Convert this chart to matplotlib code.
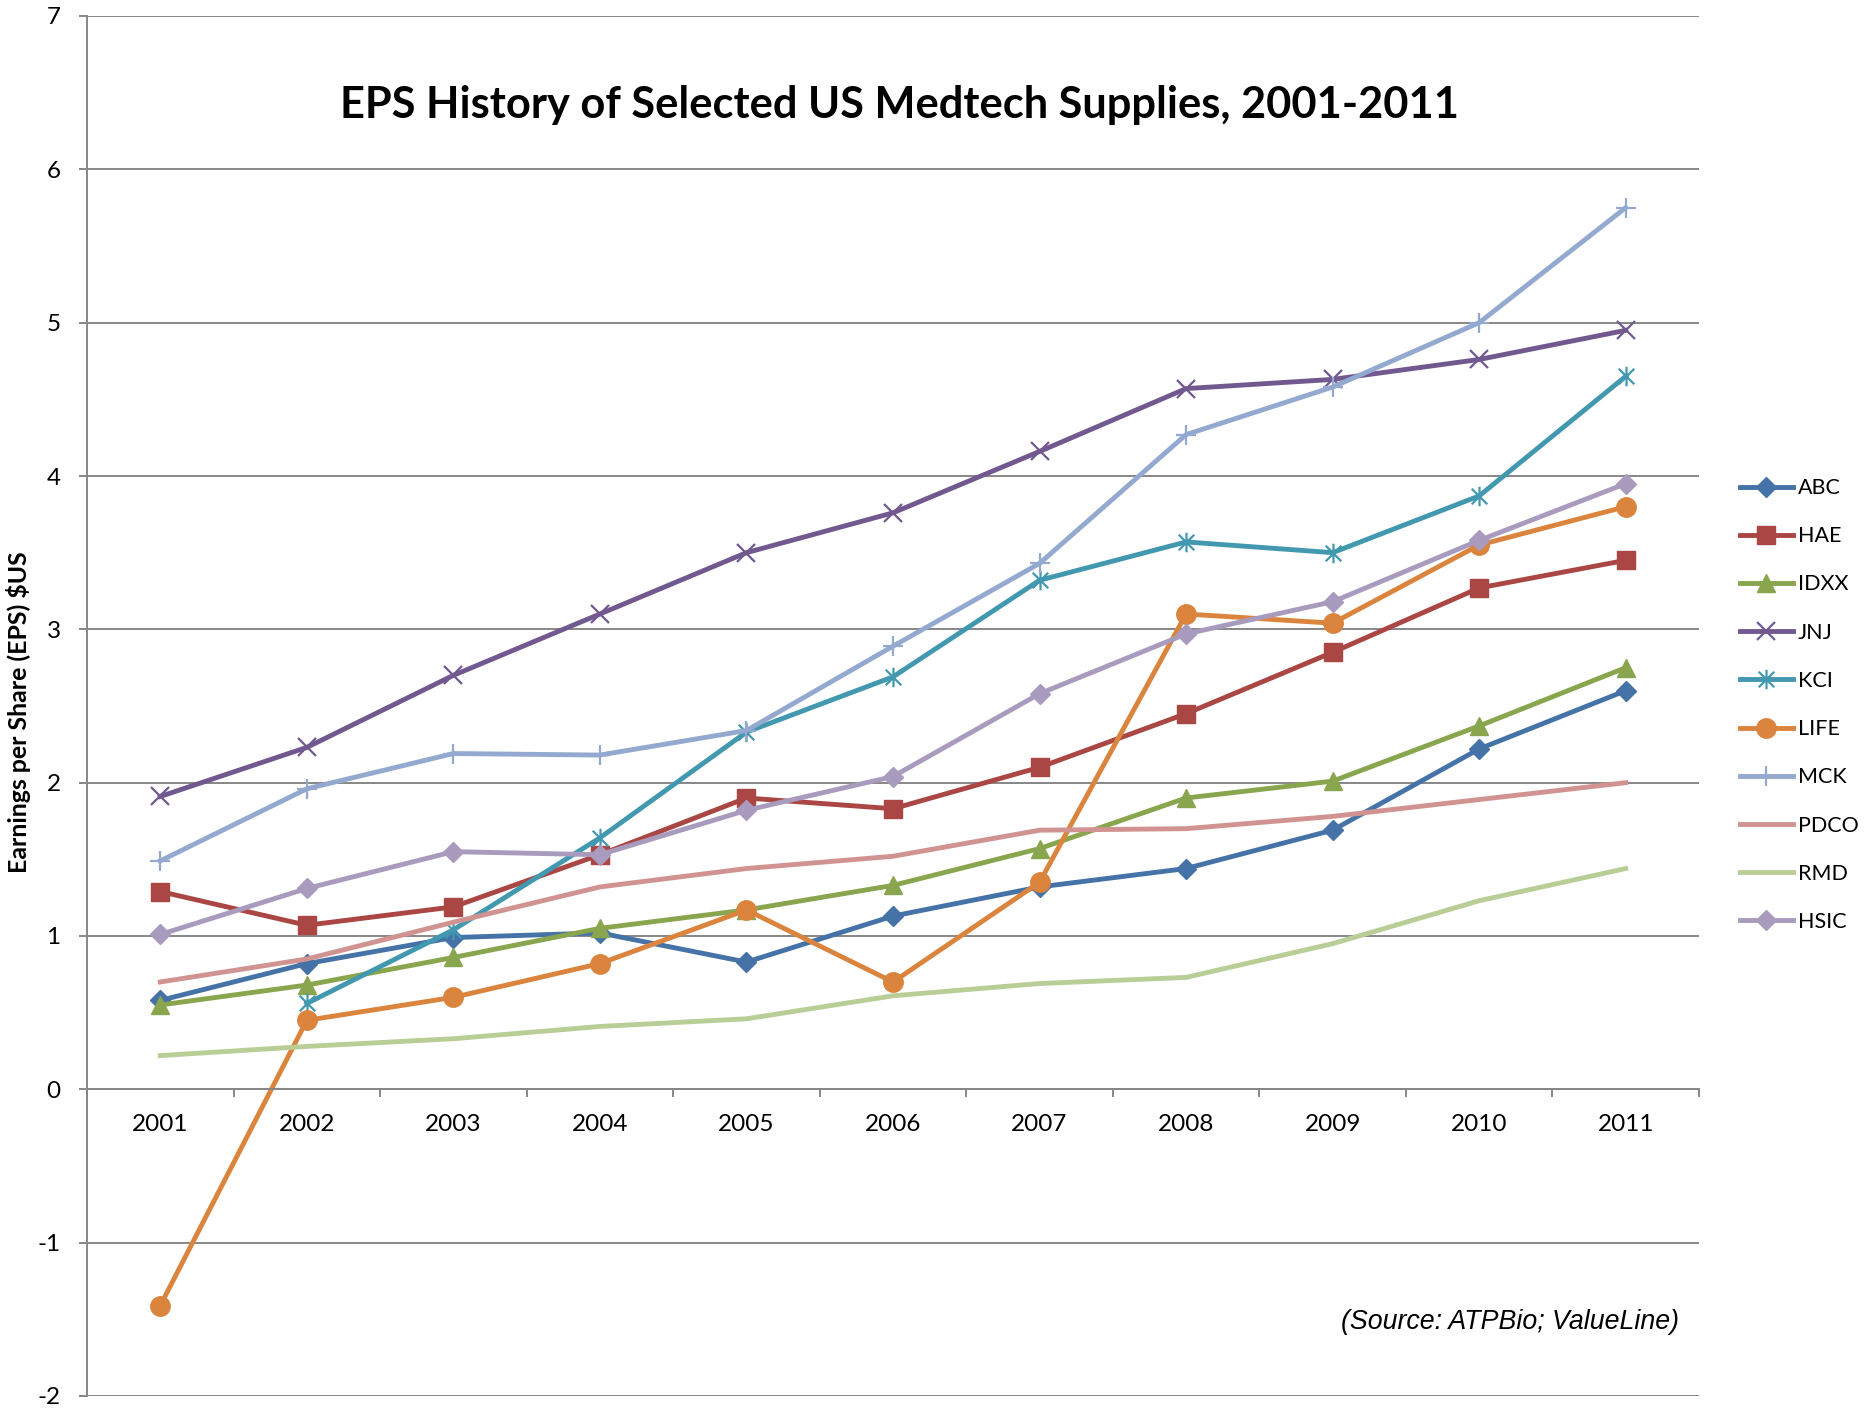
import matplotlib
matplotlib.use("Agg")
import matplotlib.pyplot as plt
import numpy as np
from matplotlib.path import Path

# EPS per year
years = ["2001", "2002", "2003", "2004", "2005", "2006", "2007", "2008", "2009", "2010", "2011"]

abc = [0.58, 0.82, 0.99, 1.02, 0.83, 1.13, 1.32, 1.44, 1.69, 2.22, 2.60]
hae = [1.29, 1.07, 1.19, 1.53, 1.90, 1.83, 2.10, 2.45, 2.85, 3.27, 3.45]
idxx = [0.55, 0.68, 0.86, 1.05, 1.17, 1.33, 1.57, 1.90, 2.01, 2.37, 2.75]
jnj = [1.91, 2.23, 2.70, 3.10, 3.50, 3.76, 4.16, 4.57, 4.63, 4.76, 4.95]
kci = [np.nan, 0.56, 1.04, 1.64, 2.33, 2.69, 3.32, 3.57, 3.50, 3.87, 4.65]
life = [-1.41, 0.45, 0.60, 0.82, 1.17, 0.70, 1.35, 3.10, 3.04, 3.55, 3.80]
mck = [1.49, 1.96, 2.19, 2.18, 2.34, 2.89, 3.43, 4.27, 4.58, 5.00, 5.75]
pdco = [0.70, 0.85, 1.09, 1.32, 1.44, 1.52, 1.69, 1.70, 1.78, 1.89, 2.00]
rmd = [0.22, 0.28, 0.33, 0.41, 0.46, 0.61, 0.69, 0.73, 0.95, 1.23, 1.44]
hsic = [1.01, 1.31, 1.55, 1.53, 1.82, 2.04, 2.58, 2.97, 3.18, 3.58, 3.95]

_GRID = "#878787"
_FONT = "Lato"

# x with a vertical bar, like Excel's star marker
_STAR = Path([(-1, -1), (1, 1), (-1, 1), (1, -1), (0, -1.25), (0, 1.25)],
             [Path.MOVETO, Path.LINETO, Path.MOVETO, Path.LINETO, Path.MOVETO, Path.LINETO])

series = [
    ("ABC", abc, "#4572A7", dict(marker="D", markersize=10)),
    ("HAE", hae, "#AA4643", dict(marker="s", markersize=13)),
    ("IDXX", idxx, "#89A54E", dict(marker="^", markersize=13)),
    ("JNJ", jnj, "#71588F", dict(marker="x", markersize=13, markeredgewidth=1.6)),
    ("KCI", kci, "#4198AF", dict(marker=_STAR, markersize=14, markeredgewidth=1.6, markerfacecolor="none")),
    ("LIFE", life, "#DB843D", dict(marker="o", markersize=14)),
    ("MCK", mck, "#93A9CF", dict(marker="+", markersize=15, markeredgewidth=1.6)),
    ("PDCO", pdco, "#D19392", dict()),
    ("RMD", rmd, "#B9CD96", dict()),
    ("HSIC", hsic, "#A99BBD", dict(marker="D", markersize=10)),
]

plt.rcParams["font.family"] = [_FONT, "DejaVu Sans"]
plt.rcParams["axes.unicode_minus"] = False

fig = plt.figure(figsize=(18.64, 14.08), dpi=100)
ax = fig.add_axes([87 / 1864, 12 / 1408, (1699 - 87) / 1864, (1396 - 16) / 1408])

x = np.arange(len(years))
for name, vals, color, mk in series:
    ax.plot(x, vals, color=color, linewidth=3.5, label=name, **mk)

ax.set_xlim(-0.5, len(years) - 0.5)
ax.set_ylim(-2, 7)
ax.set_yticks(range(-2, 8))
ax.yaxis.grid(True, color=_GRID, linewidth=1.4)
ax.set_axisbelow(True)

for spine in ["top", "right"]:
    ax.spines[spine].set_visible(False)
ax.spines["left"].set_color(_GRID)
ax.spines["left"].set_linewidth(1.4)
ax.spines["bottom"].set_position(("data", 0))
ax.spines["bottom"].set_color(_GRID)
ax.spines["bottom"].set_linewidth(1.4)

ax.set_xticks(x)
ax.set_xticklabels(years)
ax.set_xticks(np.arange(-0.5, len(years)), minor=True)
ax.tick_params(axis="x", which="major", length=0, pad=18, labelsize=17.5)
ax.tick_params(axis="x", which="minor", length=6, width=1.4, color=_GRID, direction="out")
ax.tick_params(axis="y", length=6, width=1.4, color=_GRID, pad=13, labelsize=17.5)

fig.text(900 / 1864, 1 - 105 / 1408, "EPS History of Selected US Medtech Supplies, 2001-2011",
         ha="center", va="center", fontsize=31.2, fontweight="bold")
ylab = fig.text(19 / 1864, 1 - 712 / 1408, "Earnings per Share (EPS) $US",
                ha="center", va="center", rotation=90, fontsize=17.5, fontweight="bold")
fig.text(1679 / 1864, 1 - 1322 / 1408, "(Source: ATPBio; ValueLine)",
         ha="right", va="center", fontsize=19.3, style="italic", family="Liberation Sans")

# size the axis title so it spans about the same length as the original
renderer = fig.canvas.get_renderer()
span = ylab.get_window_extent(renderer).height
ylab.set_fontsize(17.5 * 322 / span)

ax.legend(loc="center left", bbox_to_anchor=(1740 / 1864, 1 - 705 / 1408),
          bbox_transform=fig.transFigure, frameon=False, fontsize=15.5,
          borderpad=0, borderaxespad=0, handlelength=2.45, handletextpad=0.25,
          labelspacing=1.31)

fig.savefig("out.png", dpi=100)
